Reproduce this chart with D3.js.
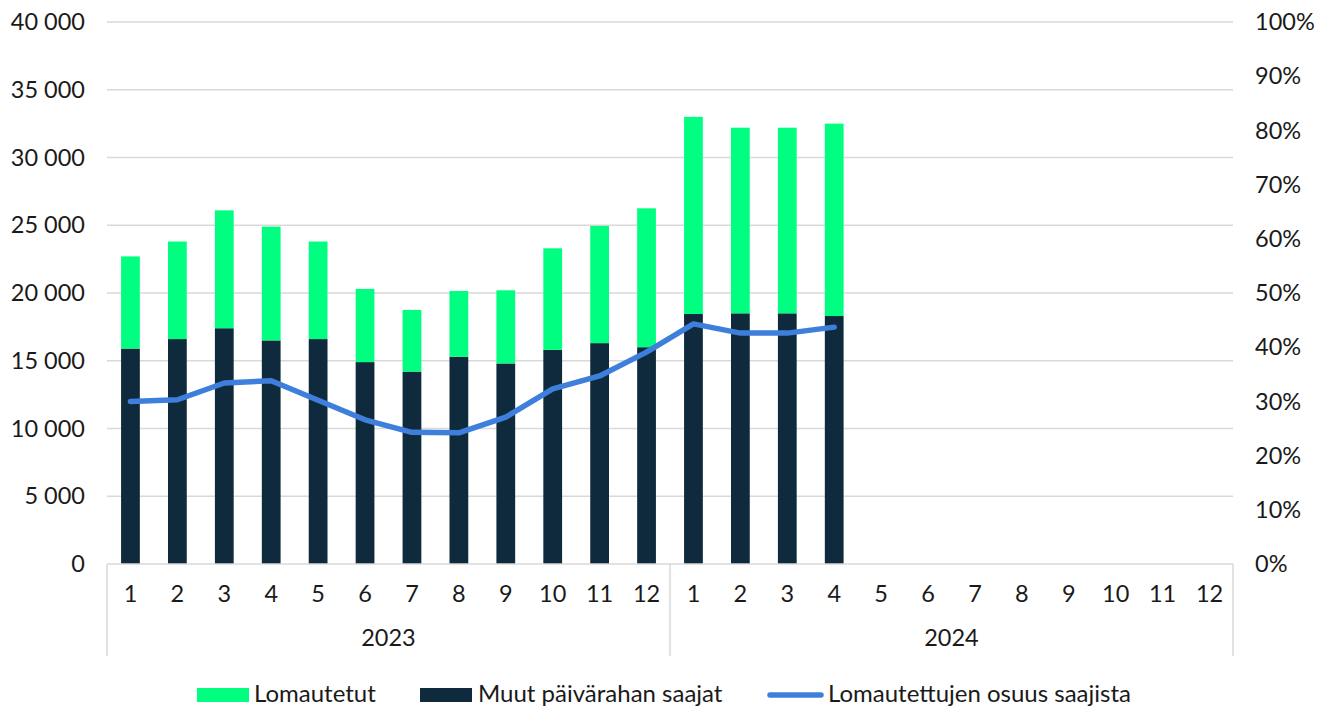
<!DOCTYPE html>
<html><head><meta charset="utf-8">
<script src="https://cdn.jsdelivr.net/npm/d3@7"></script>
<style>
body{margin:0;background:#fff;}
text{font-family:"Lato","Noto Sans",sans-serif;fill:#1a1a1a;}
</style></head>
<body><svg id="c" width="1333" height="708"></svg>
<script>
const years = ["2023","2024"];
const months = ["1","2","3","4","5","6","7","8","9","10","11","12"];
// Muut päivärahan saajat (dark), Lomautetut (green), share (%)
const muut = [15900,16600,17400,16500,16600,14900,14200,15300,14800,15800,16300,16000, 18450,18500,18500,18300];
const lomautetut = [6800,7200,8700,8400,7200,5400,4550,4850,5400,7500,8650,10250, 14550,13700,13700,14200];
const osuus = [30.0,30.3,33.4,33.8,30.2,26.6,24.3,24.2,27.1,32.3,34.7,39.1, 44.3,42.6,42.6,43.7];
const leftTicks = [0,5000,10000,15000,20000,25000,30000,35000,40000];
const rightTicks = [0,10,20,30,40,50,60,70,80,90,100];

const svg = d3.select("#c");
const L=107, R=1233, T=22, B=564;
const FS = 23.5;
const cats = [];
years.forEach(y=>months.forEach(m=>cats.push(y+"-"+m)));
const x = d3.scaleBand().domain(cats).range([L,R]).paddingInner(0.6).paddingOuter(0.3);
const y = d3.scaleLinear().domain([0,40000]).range([B,T]);
const y2 = d3.scaleLinear().domain([0,100]).range([B,T]);
const fmt = v => d3.format(",")(v).replace(/,/g," ");

// gridlines
svg.append("g").selectAll("line").data(leftTicks.slice(1)).join("line")
 .attr("x1",L).attr("x2",R).attr("y1",d=>y(d)).attr("y2",d=>y(d))
 .attr("stroke","#d9d9d9").attr("stroke-width",1.5);

// left axis labels
svg.append("g").selectAll("text").data(leftTicks).join("text")
 .attr("x",85).attr("y",d=>y(d)).attr("dy","0.35em").attr("text-anchor","end")
 .attr("font-size",FS).text(fmt);
// right axis labels
svg.append("g").selectAll("text").data(rightTicks).join("text")
 .attr("x",1255).attr("y",d=>y2(d)).attr("dy","0.35em").attr("text-anchor","start")
 .attr("font-size",FS).text(d=>d+"%");

// bars
const n = muut.length;
const data = d3.range(n).map(i=>({c:cats[i], muut:muut[i], lom:lomautetut[i], os:osuus[i]}));
svg.append("g").selectAll("rect").data(data).join("rect")
 .attr("x",d=>x(d.c)).attr("width",x.bandwidth())
 .attr("y",d=>y(d.muut)).attr("height",d=>B-y(d.muut)).attr("fill","#0f2a3c");
svg.append("g").selectAll("rect").data(data).join("rect")
 .attr("x",d=>x(d.c)).attr("width",x.bandwidth())
 .attr("y",d=>y(d.muut+d.lom)).attr("height",d=>y(d.muut)-y(d.muut+d.lom)).attr("fill","#00ff80");

// axis lines
svg.append("line").attr("x1",L).attr("x2",R).attr("y1",B).attr("y2",B).attr("stroke","#d9d9d9").attr("stroke-width",1.5);
[0,12,24].forEach(k=>{
  const xx = L + k*(R-L)/24;
  svg.append("line").attr("x1",xx).attr("x2",xx).attr("y1",B).attr("y2",656).attr("stroke","#d9d9d9").attr("stroke-width",1.5);
});
// month labels
svg.append("g").selectAll("text").data(cats).join("text")
 .attr("x",d=>x(d)+x.bandwidth()/2).attr("y",594).attr("dy","0.35em").attr("text-anchor","middle")
 .attr("font-size",FS).text(d=>d.split("-")[1]);
// year labels
svg.append("g").selectAll("text").data(years).join("text")
 .attr("x",(d,i)=>L+(i*12+6)*(R-L)/24).attr("y",638).attr("dy","0.35em").attr("text-anchor","middle")
 .attr("font-size",FS).text(d=>d);

// line
const line = d3.line().x(d=>x(d.c)+x.bandwidth()/2).y(d=>y2(d.os));
svg.append("path").datum(data).attr("d",line).attr("fill","none")
 .attr("stroke","#3f7fdc").attr("stroke-width",5.5).attr("stroke-linejoin","round").attr("stroke-linecap","round");

// legend
const lg = svg.append("g");
lg.append("rect").attr("x",197).attr("y",688).attr("width",52).attr("height",14).attr("fill","#00ff80");
lg.append("text").attr("x",254).attr("y",702).attr("font-size",24).text("Lomautetut");
lg.append("rect").attr("x",420).attr("y",688).attr("width",52).attr("height",14).attr("fill","#0f2a3c");
lg.append("text").attr("x",478).attr("y",702).attr("font-size",24).text("Muut päivärahan saajat");
lg.append("line").attr("x1",770).attr("x2",821).attr("y1",695).attr("y2",695).attr("stroke","#3f7fdc").attr("stroke-width",5.5).attr("stroke-linecap","round");
lg.append("text").attr("x",828).attr("y",702).attr("font-size",24).text("Lomautettujen osuus saajista");
</script></body></html>
